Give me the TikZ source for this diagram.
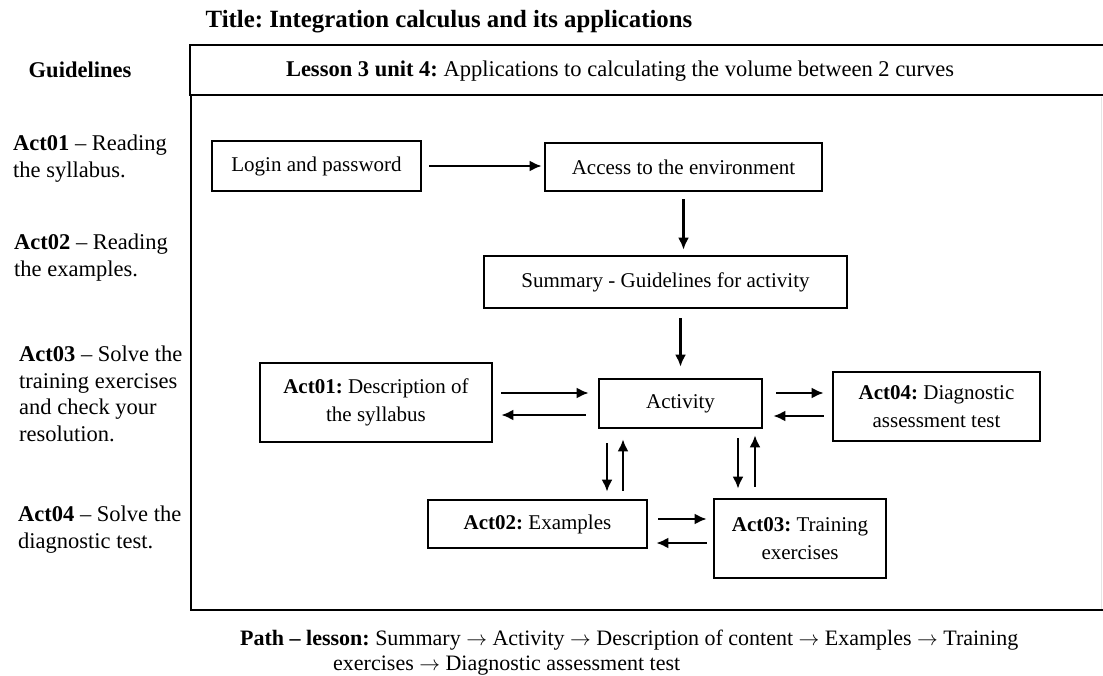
\documentclass[tikz,border=0pt]{standalone}
\usepackage{fontspec}
\setmainfont{Liberation Serif}
\usetikzlibrary{arrows.meta,calc}
\frenchspacing
\tikzset{
  box/.style={draw,line width=2.6pt,align=center,inner sep=0pt,font=\fontsize{21}{27.5}\selectfont},
  arr/.style={line width=2.5pt,-{Latex[length=12pt,width=11pt]}},
  guide/.style={anchor=west,align=left,inner sep=0pt},
}
\begin{document}
\begin{tikzpicture}[x=1pt,y=1pt,font=\fontsize{22.5}{26.5}\selectfont]
  \useasboundingbox (0,0) rectangle (1103,-676);
  % frame and header
  \draw[line width=1.6pt] (191,-95) -- (191,-610) -- (1106,-610);
  \draw[gray!20,line width=0.8pt] (1101,-97) -- (1101,-609);
  \draw[line width=2.7pt] (1106,-45) -- (190,-45) -- (190,-95) -- (1106,-95);
  \node[anchor=base,font=\fontsize{24.8}{28}\selectfont] (title) at (449,-28) {\textbf{Title: Integration calculus and its applications}};
  \node[anchor=base] (lesson) at (620,-77) {\textbf{Lesson 3 unit 4:} Applications to calculating the volume between 2 curves};
  % guidelines column
  \node[anchor=base] (guides) at (80,-78) {\textbf{Guidelines}};
  \node[guide] (guide1) at (13,-158.5) {\textbf{Act01} -- Reading\\the syllabus.};
  \node[guide] (guide2) at (14,-257.5) {\textbf{Act02} -- Reading\\the examples.};
  \node[guide] (guide3) at (19,-394) {\textbf{Act03} -- Solve the\\training exercises\\and check your\\resolution.};
  \node[guide] (guide4) at (18,-529.5) {\textbf{Act04} -- Solve the\\diagnostic test.};
  % flow
  \node[box,minimum width=209pt,minimum height=50pt] (login) at (316.5,-166) {Login and password};
  \node[box,minimum width=277pt,minimum height=48pt] (access) at (683.5,-167) {Access to the environment};
  \node[box,minimum width=363pt,minimum height=52pt] (summary) at (665.5,-282) {Summary - Guidelines for activity};
  \node[box,minimum width=163pt,minimum height=49pt] (activity) at (680.5,-403.5) {Activity};
  \node[box,minimum width=232pt,minimum height=79pt] (actone) at (376,-402.5) {\textbf{Act01:} Description of\\the syllabus};
  \node[box,minimum width=207pt,minimum height=69pt] (actfour) at (936.5,-406.5) {\textbf{Act04:} Diagnostic\\assessment test};
  \node[box,minimum width=219pt,minimum height=48pt] (acttwo) at (537.5,-524) {\textbf{Act02:} Examples};
  \node[box,minimum width=172pt,minimum height=79pt] (actthree) at (800,-538.5) {\textbf{Act03:} Training\\exercises};
  % arrows
  \draw[arr,shorten <=7pt,shorten >=2pt] (login.east) -- (login.east -| access.west);
  \draw[arr,shorten <=7pt,shorten >=5pt] (access.south) -- (access.south |- summary.north);
  \draw[arr,shorten <=9pt,shorten >=11pt] (activity.north |- summary.south) -- (activity.north);
  \draw[arr] ($(actone.east)+(8,9.5)$) -- ($(actone.east -| activity.west)+(-9,9.5)$);
  \draw[arr] ($(actone.east -| activity.west)+(-12,-12.5)$) -- ($(actone.east)+(8,-12.5)$);
  \draw[arr] ($(activity.east)+(13,10.5)$) -- ($(activity.east -| actfour.west)+(-8,10.5)$);
  \draw[arr] ($(activity.east -| actfour.west)+(-8,-12.5)$) -- ($(activity.east)+(10,-12.5)$);
  \draw[arr] ($(activity.south)+(-73.5,-14)$) -- ($(activity.south |- acttwo.north)+(-73.5,7)$);
  \draw[arr] ($(activity.south |- acttwo.north)+(-57.5,8)$) -- ($(activity.south)+(-57.5,-10)$);
  \draw[arr] ($(activity.south)+(57.5,-9)$) -- ($(activity.south |- actthree.north)+(57.5,9)$);
  \draw[arr] ($(activity.south |- actthree.north)+(74.5,11)$) -- ($(activity.south)+(74.5,-6)$);
  \draw[arr] ($(acttwo.east)+(10,5)$) -- ($(acttwo.east -| actthree.west)+(-6,5)$);
  \draw[arr] ($(acttwo.east -| actthree.west)+(-6,-19)$) -- ($(acttwo.east)+(8,-19)$);
  % path of the lesson
  \node[guide,font=\fontsize{22}{25}\selectfont] (path) at (240,-652.5) {\textbf{Path -- lesson:} Summary $\rightarrow$ Activity $\rightarrow$ Description of content $\rightarrow$ Examples $\rightarrow$ Training\\\hspace*{93pt}exercises $\rightarrow$ Diagnostic assessment test};
\end{tikzpicture}
\end{document}
